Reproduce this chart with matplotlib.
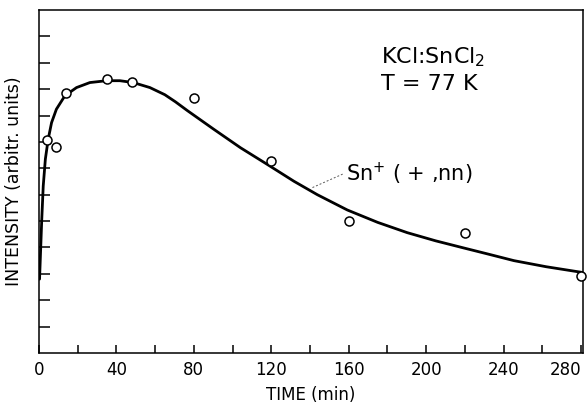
import matplotlib
matplotlib.use("Agg")
import matplotlib.pyplot as plt

# measured points (open circles)
time_pts = [4, 9, 14, 35, 48, 80, 120, 160, 220, 280]
intensity_pts = [8.07, 7.82, 9.86, 10.37, 10.28, 9.67, 7.27, 4.99, 4.55, 2.90]

# fitted curve
curve_t = [0.3, 0.6, 1.0, 1.4, 2.2, 3.3, 4.75, 6.5, 9.0, 13.4, 19.4, 26.3, 34.9, 41.8,
           48.7, 57.3, 65.0, 70.5, 76.6, 90.3, 104.1, 117.9, 131.7, 143.8, 159.3, 175.0,
           190.3, 205.0, 219.5, 232.0, 245.4, 262.0, 281.0]
curve_i = [2.8, 3.4, 4.2, 5.0, 6.33, 7.35, 8.1, 8.73, 9.24, 9.75, 10.06, 10.25, 10.32,
           10.32, 10.25, 10.06, 9.79, 9.52, 9.19, 8.48, 7.78, 7.15, 6.51, 6.0, 5.42, 4.95,
           4.56, 4.25, 3.98, 3.75, 3.50, 3.27, 3.05]

xticks_major = [0, 40, 80, 120, 160, 200, 240, 280]
xticks_minor = [20, 60, 100, 140, 180, 220, 260]
yticks = list(range(1, 13))

# leader line of the curve label
leader_t = [141.3, 157.5]
leader_i = [6.27, 6.8]

fig = plt.figure(figsize=(5.87, 4.08), dpi=100)
ax = fig.add_axes([0.0664, 0.1348, 0.9266, 0.8407])

ax.plot(curve_t, curve_i, color="black", lw=2.0, solid_capstyle="round",
        solid_joinstyle="round")
ax.plot(time_pts, intensity_pts, "o", mfc="white", mec="black", ms=6.5, mew=1.1,
        clip_on=False, zorder=5)

ax.set_xlim(0, 281)
ax.set_ylim(0, 13)
ax.set_xticks(xticks_major + xticks_minor)
ax.set_xticklabels([str(t) for t in xticks_major] + [""] * len(xticks_minor))
ax.get_xticklabels()[len(xticks_major) - 1].set_horizontalalignment("right")
ax.set_yticks(yticks)
ax.set_yticklabels([])
ax.tick_params(axis="x", direction="in", length=6, width=1.1, labelsize=12, pad=6)
ax.tick_params(axis="y", direction="in", length=8, width=1.1)
for s in ax.spines.values():
    s.set_linewidth(1.1)

ax.set_xlabel("TIME (min)", fontsize=12, labelpad=5)
ax.set_ylabel("INTENSITY (arbitr. units)", fontsize=12.5, labelpad=8)

ax.text(0.628, 0.862, r"KCl:SnCl$_2$", transform=ax.transAxes, fontsize=16, va="center")
ax.text(0.628, 0.785, "T = 77 K", transform=ax.transAxes, fontsize=16, va="center")

ax.plot(leader_t, leader_i, color="0.35", lw=0.7, ls=(0, (2, 2)))
ax.text(158.5, 6.8, r"Sn$^{+}$ ( + ,nn)", fontsize=15, va="center", ha="left")

fig.savefig("out.png", dpi=100)
